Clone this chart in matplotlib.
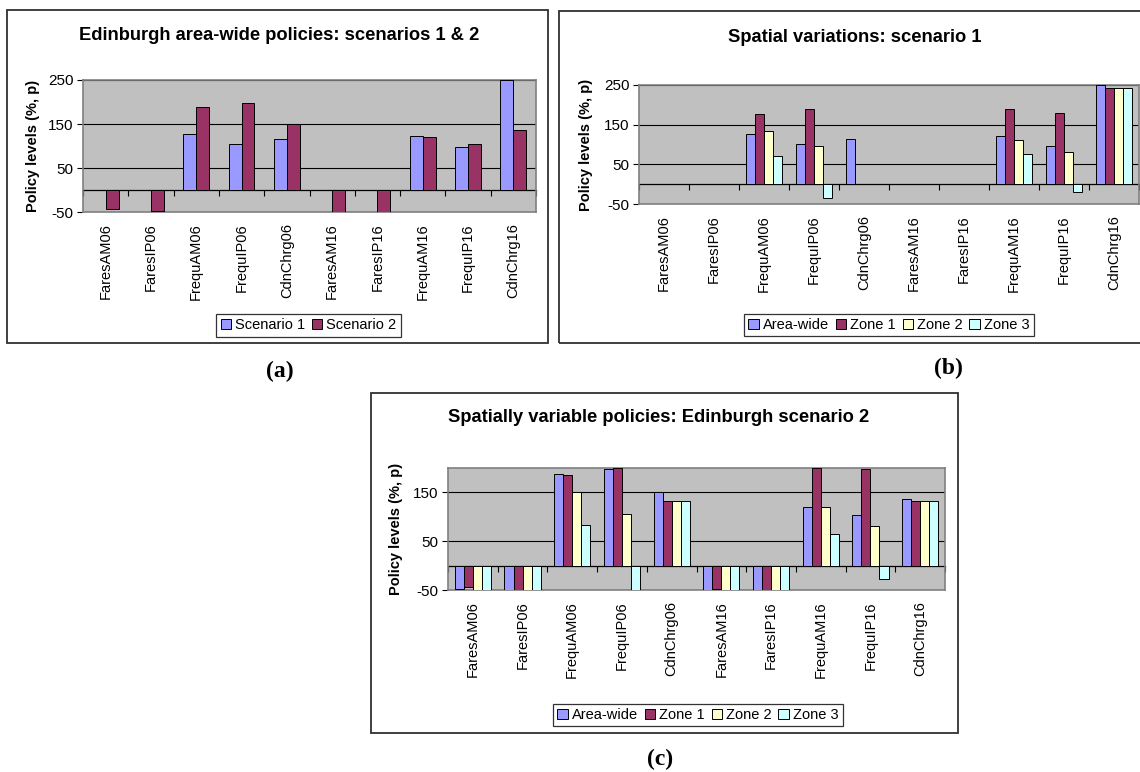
import numpy as np
import matplotlib
matplotlib.use("Agg")
import matplotlib.pyplot as plt
from matplotlib.patches import Rectangle, Patch

plt.rcParams['font.family'] = ['Liberation Sans', 'DejaVu Sans']
plt.rcParams['axes.unicode_minus'] = False

W, H = 1140, 772

categories = ['FaresAM06', 'FaresIP06', 'FrequAM06', 'FrequIP06', 'CdnChrg06',
              'FaresAM16', 'FaresIP16', 'FrequAM16', 'FrequIP16', 'CdnChrg16']

# (a) area-wide, scenarios 1 & 2
a_scen1 = [0, 0, 127, 104, 115, 0, 0, 123, 98, 250]
a_scen2 = [-44, -48, 189, 198, 150, -50, -50, 120, 104, 137]

# (b) spatial variations, scenario 1
b_area = [0, 0, 127, 102, 115, 0, 0, 122, 96, 250]
b_zone1 = [0, 0, 178, 189, 0, 0, 0, 190, 180, 243]
b_zone2 = [0, 0, 135, 97, 0, 0, 0, 112, 81, 243]
b_zone3 = [0, 0, 70, -36, 0, 0, 0, 75, -19, 243]

# (c) spatially variable policies, scenario 2
c_area = [-47, -49, 188, 198, 150, -50, -50, 120, 104, 137]
c_zone1 = [-44, -50, 186, 200, 132, -47, -50, 200, 197, 132]
c_zone2 = [-50, -50, 150, 105, 132, -50, -50, 120, 82, 132]
c_zone3 = [-50, -50, 84, -50, 132, -50, -50, 64, -27, 132]

colors = ['#9999FF', '#993366', '#FFFFCC', '#CCFFFF']


def px_rect(x0, y0, x1, y1):
    return [x0 / W, 1 - y1 / H, (x1 - x0) / W, (y1 - y0) / H]


def fx(x):
    return x / W


def fy(y):
    return 1 - y / H


fig = plt.figure(figsize=(W / 100, H / 100), dpi=100)


def frame(x0, y0, x1, y1):
    fig.patches.append(Rectangle((fx(x0), fy(y1)), (x1 - x0) / W, (y1 - y0) / H,
                                 transform=fig.transFigure, fill=False,
                                 edgecolor='#303030', lw=1.3))


def panel(rect, series, names, ylim, yticks, legend_box):
    ax = fig.add_axes(px_rect(*rect))
    ax.set_facecolor('#C0C0C0')
    x = np.arange(len(categories))
    n = len(series)
    w = 1 / (n + 1.5)
    for i, vals in enumerate(series):
        ax.bar(x + (i - (n - 1) / 2) * w, vals, w, color=colors[i],
               edgecolor='black', lw=0.7, label=names[i], zorder=3)
    ax.set_xlim(-0.5, len(categories) - 0.5)
    ax.set_ylim(*ylim)
    ax.set_yticks(yticks)
    ax.set_xticks(x)
    ax.set_xticklabels(categories, rotation=90, fontsize=10.5)
    ax.tick_params(axis='x', length=0, pad=8)
    ax.tick_params(axis='y', labelsize=11, length=4, width=0.8, pad=3)
    ax.yaxis.grid(True, color='black', lw=0.8)
    ax.set_axisbelow(True)
    for s in ax.spines.values():
        s.set_color('#808080')
        s.set_linewidth(1.2)
    # category axis crossing at zero
    zf = (0 - ylim[0]) / (ylim[1] - ylim[0])
    sec = ax.secondary_xaxis(zf)
    sec.set_xticks(np.arange(-0.5, len(categories), 1))
    sec.tick_params(length=4, width=0.8, color='black', labelbottom=False)
    sec.spines['bottom'].set_color('black')
    sec.spines['bottom'].set_linewidth(0.9)
    handles = [Patch(facecolor=colors[i], edgecolor='black', lw=0.7, label=names[i])
               for i in range(n)]
    lx0, ly0, lx1, ly1 = legend_box
    leg = fig.legend(handles=handles, loc='center', ncol=n, fontsize=10.5,
                     bbox_to_anchor=(fx((lx0 + lx1) / 2), fy((ly0 + ly1) / 2)),
                     frameon=True, fancybox=False, edgecolor='black',
                     handlelength=0.7, handleheight=0.7, handletextpad=0.3,
                     columnspacing=0.45, borderpad=0.3, borderaxespad=0)
    leg.get_frame().set_linewidth(0.9)
    return ax


title_size = 13.2

# panel (a)
frame(7, 10, 548, 343)
panel((83, 80, 536, 212), [a_scen1, a_scen2], ['Scenario 1', 'Scenario 2'],
      (-50, 250), [-50, 50, 150, 250], (219, 313, 398, 338))
fig.text(fx(279), fy(36), 'Edinburgh area-wide policies: scenarios 1 & 2',
         ha='center', va='center', fontsize=title_size, fontweight='bold')
fig.text(fx(33), fy(146), 'Policy levels (%, p)', rotation=90, ha='center',
         va='center', fontsize=10.5, fontweight='bold')

# panel (b)
frame(559, 11, 1150, 343)
zones = ['Area-wide', 'Zone 1', 'Zone 2', 'Zone 3']
panel((639, 85, 1139, 204), [b_area, b_zone1, b_zone2, b_zone3], zones,
      (-50, 250), [-50, 50, 150, 250], (741, 312, 1037, 338))
fig.text(fx(855), fy(37), 'Spatial variations: scenario 1',
         ha='center', va='center', fontsize=title_size, fontweight='bold')
fig.text(fx(586), fy(145), 'Policy levels (%, p)', rotation=90, ha='center',
         va='center', fontsize=10.5, fontweight='bold')

# panel (c)
frame(371, 393, 958, 733)
panel((448, 468, 945, 590), [c_area, c_zone1, c_zone2, c_zone3], zones,
      (-50, 200), [-50, 50, 150], (547, 701, 849, 729))
fig.text(fx(659), fy(418), 'Spatially variable policies: Edinburgh scenario 2',
         ha='center', va='center', fontsize=title_size, fontweight='bold')
fig.text(fx(396), fy(529), 'Policy levels (%, p)', rotation=90, ha='center',
         va='center', fontsize=10.5, fontweight='bold')

# sub-figure letters
for lab, x, y in [('(a)', 280, 371), ('(b)', 948, 368), ('(c)', 660, 759)]:
    fig.text(fx(x), fy(y), lab, ha='center', va='center', fontsize=17,
             fontweight='bold', family=['Liberation Serif', 'DejaVu Serif'])

fig.savefig('out.png', dpi=100)
